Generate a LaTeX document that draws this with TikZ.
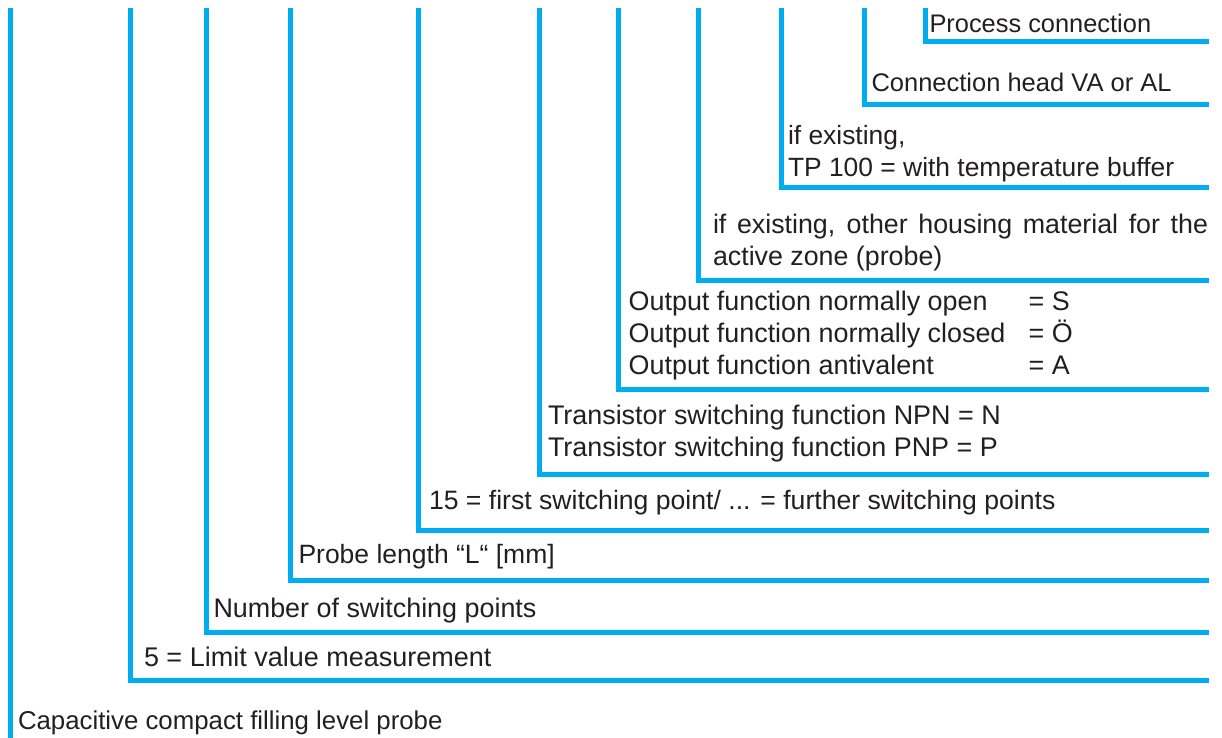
\documentclass[tikz,border=0pt]{standalone}
\usepackage{fontspec}
\setmainfont{Liberation Sans}
\definecolor{lineblue}{HTML}{00AEEF}
\definecolor{txtgray}{HTML}{231F20}
\tikzset{
  bracket/.style={draw=lineblue, line width=5pt, line cap=butt, line join=miter},
  lbl/.style={anchor=base west, inner sep=0pt, outer sep=0pt, text=txtgray,
              font=\fontsize{#1}{32}\selectfont},
  lbl/.default=25.5,
}
\begin{document}
\begin{tikzpicture}[x=1pt,y=-1pt]
  \useasboundingbox (0,0) rectangle (1222,738);
  % top ends of the vertical strokes
  \coordinate (t0) at (10,8.5);
  \coordinate (t1) at (130.5,8.5);
  \coordinate (t2) at (206.5,8.5);
  \coordinate (t3) at (290,8.5);
  \coordinate (t4) at (418.5,8.5);
  \coordinate (t5) at (539.5,8.5);
  \coordinate (t6) at (618.5,8.5);
  \coordinate (t7) at (698.5,8.5);
  \coordinate (t8) at (781.5,8.5);
  \coordinate (t9) at (864.5,8.5);
  \coordinate (t10) at (925,8.5);
  % right ends of the horizontal strokes
  \coordinate (b0) at (10,738);
  \coordinate (e1) at (1209,680.5);
  \coordinate (e2) at (1209,632.5);
  \coordinate (e3) at (1209,580);
  \coordinate (e4) at (1209,530);
  \coordinate (e5) at (1209,474.5);
  \coordinate (e6) at (1209,389.5);
  \coordinate (e7) at (1209,280);
  \coordinate (e8) at (1209,187.5);
  \coordinate (e9) at (1209,104.5);
  \coordinate (e10) at (1209,41.5);
  % strokes
  \draw[bracket] (t0) -- (b0);
  \draw[bracket] (t1) |- (e1);
  \draw[bracket] (t2) |- (e2);
  \draw[bracket] (t3) |- (e3);
  \draw[bracket] (t4) |- (e4);
  \draw[bracket] (t5) |- (e5);
  \draw[bracket] (t6) |- (e6);
  \draw[bracket] (t7) |- (e7);
  \draw[bracket] (t8) |- (e8);
  \draw[bracket] (t9) |- (e9);
  \draw[bracket] (t10) |- (e10);
  % labels
  \node[lbl=25.4] (pcT) at (929.5,33) {Process connection};
  \node[lbl=25.5] (chT) at (871.5,92) {Connection head VA or AL};
  \node[lbl=26.4] (tp1) at (788,145) {if existing,};
  \node[lbl=26.4] (tp2) at (788,177) {TP 100 = with temperature buffer};
  \node[lbl=26.8] (hm1) at (713,233) {\makebox[495pt][s]{if existing, other housing material for the}};
  \node[lbl=26.8] (hm2) at (713,265) {active zone (probe)};
  \node[lbl=26.9] (of1) at (628.7,310) {Output function normally open};
  \node[lbl=26.9] (of2) at (628.7,342) {Output function normally closed};
  \node[lbl=26.9] (of3) at (628.7,374) {Output function antivalent};
  \node[lbl=26.9] (ofS) at (1028.7,310) {= S};
  \node[lbl=26.9] (ofO) at (1028.7,342) {= Ö};
  \node[lbl=26.9] (ofA) at (1028.7,374) {= A};
  \node[lbl=26.9] (tr1) at (548,424) {Transistor switching function NPN = N};
  \node[lbl=26.9] (tr2) at (548,456) {Transistor switching function PNP = P};
  \node[lbl=26.6] (spT) at (429,509) {15 = first switching point/ ... = further switching points};
  \node[lbl=26.5] (plT) at (298.5,563) {Probe length “L“ [mm]};
  \node[lbl=26.9] (nsT) at (213.5,617) {Number of switching points};
  \node[lbl=27.0] (lvT) at (144,666) {5 = Limit value measurement};
  \node[lbl=25.8] (cpT) at (18,729) {Capacitive compact filling level probe};
\end{tikzpicture}
\end{document}
